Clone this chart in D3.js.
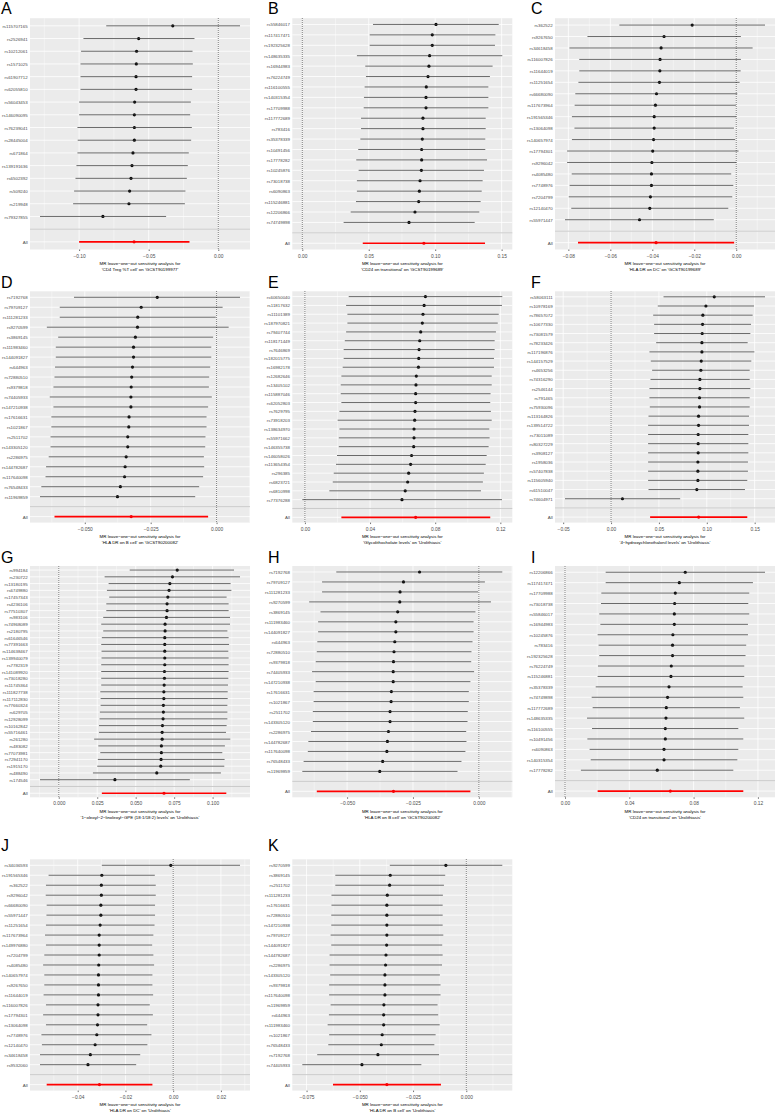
<!DOCTYPE html>
<html>
<head>
<meta charset="utf-8">
<script src="https://cdn.jsdelivr.net/npm/d3@7"></script>
<style>
  body { margin: 0; background: #fff; }
  svg { display: block; font-family: "Liberation Sans", Arial, sans-serif; }
</style>
</head>
<body>
<svg id="fig" width="776" height="1113"></svg>
<script>
// ---- data: leave-one-out estimates (lower CI, beta, upper CI) ----

const snpA = ['rs115707165','rs2526941','rs10212061','rs1571025','rs61907712','rs62055810','rs56043453','rs146090095','rs76239041','rs28445004','rs671864','rs139191636','rs6502392','rs509240','rs219948','rs79327855'];
const loA = [-0.0805,-0.0969,-0.0986,-0.0990,-0.0990,-0.0990,-0.1000,-0.1000,-0.1012,-0.1010,-0.1012,-0.1019,-0.1026,-0.1036,-0.1043,-0.1281];
const bA  = [-0.0327,-0.0572,-0.0587,-0.0589,-0.0591,-0.0591,-0.0601,-0.0603,-0.0603,-0.0603,-0.0613,-0.0620,-0.0627,-0.0637,-0.0642,-0.0829];
const hiA = [0.0156,-0.0171,-0.0185,-0.0183,-0.0188,-0.0188,-0.0197,-0.0202,-0.0190,-0.0195,-0.0212,-0.0219,-0.0226,-0.0236,-0.0240,-0.0375];
const allA = [-0.1000,-0.0605,-0.0207];
const ticksA = [-0.10,-0.05,0.00];

const snpB = ['rs55846017','rs117417471','rs192325628','rs148635335','rs16944983','rs76224749','rs116100555','rs140315354','rs17709988','rs117772689','rs783416','rs35378339','rs10491456','rs17778282','rs10245876','rs73018738','rs6090863','rs115246881','rs12206866','rs74749898'];
const loB = [0.0532,0.0507,0.0507,0.0411,0.0474,0.0479,0.0469,0.0464,0.0462,0.0442,0.0442,0.0437,0.0421,0.0406,0.0424,0.0411,0.0411,0.0404,0.0364,0.0311];
const bB  = [0.1006,0.0978,0.0978,0.0958,0.0953,0.0946,0.0933,0.0931,0.0931,0.0908,0.0908,0.0903,0.0898,0.0898,0.0896,0.0886,0.0881,0.0876,0.0848,0.0803];
const hiB = [0.1478,0.1453,0.1450,0.1505,0.1432,0.1412,0.1400,0.1400,0.1400,0.1380,0.1380,0.1377,0.1377,0.1390,0.1367,0.1357,0.1350,0.1342,0.1332,0.1297];
const allB = [0.0455,0.0915,0.1375];
const ticksB = [0.00,0.05,0.10,0.15];

const snpC = ['rs362522','rs9267650','rs34618458','rs116007826','rs11644019','rs11251654','rs66680090','rs117673964','rs191565346','rs13064098','rs140657974','rs17794301','rs9296042','rs4085480','rs7748976','rs7204799','rs12140470','rs55971447'];
const loC = [-0.0557,-0.0709,-0.0795,-0.0748,-0.0748,-0.0752,-0.0767,-0.0770,-0.0783,-0.0771,-0.0783,-0.0806,-0.0806,-0.0784,-0.0794,-0.0798,-0.0786,-0.0816];
const bC  = [-0.0210,-0.0344,-0.0358,-0.0363,-0.0364,-0.0366,-0.0380,-0.0385,-0.0391,-0.0391,-0.0394,-0.0398,-0.0402,-0.0404,-0.0404,-0.0409,-0.0412,-0.0461];
const hiC = [0.0137,0.0022,0.0078,0.0022,0.0021,0.0016,0.0005,-0.0002,0.0000,-0.0011,-0.0005,0.0011,0.0000,-0.0024,-0.0014,-0.0019,-0.0038,-0.0107];
const allC = [-0.0754,-0.0382,-0.0010];
const ticksC = [-0.08,-0.06,-0.04,-0.02,0.00];

// D and H show the same analysis
const snpD = ['rs7192768','rs79709127','rs111281233','rs9270599','rs3869145','rs111983460','rs144091827','rs644963','rs72880510','rs9379818','rs74405933','rs147210938','rs17616631','rs1021867','rs2511702','rs143305120','rs2286975','rs144782687','rs117640098','rs76548433','rs11969859'];
const loD = [-0.0541,-0.0595,-0.0595,-0.0644,-0.0601,-0.0610,-0.0610,-0.0613,-0.0615,-0.0619,-0.0633,-0.0619,-0.0627,-0.0627,-0.0630,-0.0630,-0.0637,-0.0647,-0.0649,-0.0665,-0.0670];
const bD  = [-0.0225,-0.0286,-0.0299,-0.0300,-0.0308,-0.0315,-0.0315,-0.0319,-0.0322,-0.0324,-0.0325,-0.0325,-0.0332,-0.0333,-0.0337,-0.0337,-0.0343,-0.0347,-0.0349,-0.0365,-0.0376];
const hiD = [0.0089,0.0023,-0.0003,0.0046,-0.0013,-0.0020,-0.0020,-0.0024,-0.0028,-0.0029,-0.0018,-0.0032,-0.0038,-0.0038,-0.0042,-0.0043,-0.0048,-0.0047,-0.0051,-0.0066,-0.0081];
const allD = [-0.0615,-0.0324,-0.0032];
const ticksD = [-0.050,-0.025,0.000];

const snpE = ['rs60650040','rs11817632','rs11101389','rs187970821','rs79407744','rs118171449','rs7646869','rs182015775','rs16982178','rs12682646','rs13405102','rs115887046','rs62052803','rs7629795','rs73918203','rs138634970','rs55971662','rs146355738','rs146058026','rs113654354','rs296385','rs6823721','rs6810998','rs77376288'];
const loE = [0.0269,0.0253,0.0261,0.0261,0.0253,0.0245,0.0238,0.0238,0.0232,0.0224,0.0220,0.0220,0.0224,0.0212,0.0201,0.0212,0.0208,0.0208,0.0197,0.0191,0.0177,0.0171,0.0150,-0.0016];
const bE  = [0.0740,0.0732,0.0725,0.0721,0.0711,0.0705,0.0701,0.0699,0.0697,0.0684,0.0682,0.0680,0.0680,0.0676,0.0674,0.0670,0.0670,0.0668,0.0655,0.0649,0.0637,0.0631,0.0616,0.0596];
const hiE = [0.1212,0.1210,0.1190,0.1184,0.1173,0.1165,0.1165,0.1161,0.1161,0.1147,0.1147,0.1140,0.1138,0.1142,0.1147,0.1132,0.1134,0.1128,0.1116,0.1110,0.1099,0.1093,0.1081,0.1210];
const allE = [0.0224,0.0680,0.1138];
const ticksE = [0.00,0.04,0.08,0.12];

const snpF = ['rs58063111','rs10978169','rs78657072','rs10677330','rs73081579','rs78233426','rs117196876','rs144157529','rs4653256','rs74316290','rs2546144','rs791465','rs75930096','rs113164826','rs139514722','rs73011089','rs80327229','rs3908127','rs1958036','rs57407838','rs115605940','rs61510047','rs74604971'];
const loF = [0.0548,0.0488,0.0440,0.0450,0.0450,0.0471,0.0401,0.0415,0.0429,0.0412,0.0401,0.0401,0.0405,0.0391,0.0387,0.0387,0.0387,0.0387,0.0387,0.0387,0.0387,0.0391,-0.0481];
const bF  = [0.1078,0.0991,0.0959,0.0956,0.0952,0.0949,0.0949,0.0942,0.0938,0.0928,0.0928,0.0924,0.0924,0.0914,0.0914,0.0910,0.0910,0.0910,0.0907,0.0907,0.0907,0.0896,0.0119];
const hiF = [0.1608,0.1493,0.1479,0.1462,0.1455,0.1427,0.1497,0.1465,0.1448,0.1448,0.1455,0.1448,0.1448,0.1441,0.1441,0.1434,0.1434,0.1434,0.1430,0.1430,0.1423,0.1399,0.0722];
const allF = [0.0408,0.0915,0.1423];
const ticksF = [-0.05,0.00,0.05,0.10,0.15];

const snpG = ['rs994184','rs230722','rs13180195','rs6749880','rs17457343','rs4236106','rs77510307','rs983106','rs74968089','rs2180795','rs61646546','rs77391663','rs114638467','rs139940079','rs7782319','rs141089920','rs73018280','rs11745364','rs111827738','rs117112830','rs77660324','rs629705','rs12928099','rs10162842','rs55716461','rs261280','rs483082','rs77073981','rs72941170','rs1915170','rs488490','rs174546'];
const loG = [0.0461,0.0298,0.0324,0.0313,0.0328,0.0309,0.0309,0.0289,0.0276,0.0289,0.0280,0.0276,0.0278,0.0278,0.0276,0.0276,0.0276,0.0276,0.0270,0.0272,0.0272,0.0267,0.0265,0.0261,0.0261,0.0230,0.0257,0.0270,0.0254,0.0250,0.0222,-0.0122];
const bG  = [0.0770,0.0739,0.0722,0.0717,0.0709,0.0704,0.0704,0.0700,0.0691,0.0691,0.0689,0.0689,0.0689,0.0689,0.0689,0.0687,0.0687,0.0685,0.0683,0.0683,0.0680,0.0680,0.0678,0.0674,0.0672,0.0672,0.0667,0.0667,0.0665,0.0663,0.0637,0.0365];
const hiG = [0.1139,0.1178,0.1117,0.1122,0.1091,0.1104,0.1104,0.1113,0.1113,0.1096,0.1104,0.1107,0.1102,0.1104,0.1104,0.1104,0.1102,0.1100,0.1098,0.1098,0.1096,0.1096,0.1096,0.1091,0.1087,0.1115,0.1080,0.1063,0.1078,0.1076,0.1054,0.0852];
const allG = [0.0280,0.0684,0.1089];
const ticksG = [0.000,0.025,0.050,0.075,0.100];

const snpI = ['rs12206866','rs117417471','rs17709988','rs73018738','rs55846017','rs16944983','rs10245876','rs783416','rs192325628','rs76224749','rs115246881','rs35378339','rs74749898','rs117772689','rs148635335','rs116100555','rs10491456','rs6090863','rs140315354','rs17778282'];
const loI = [0.0253,0.0253,0.0226,0.0224,0.0213,0.0220,0.0203,0.0209,0.0213,0.0205,0.0203,0.0191,0.0166,0.0172,0.0137,0.0168,0.0139,0.0153,0.0160,0.0099];
const bI  = [0.0748,0.0711,0.0686,0.0682,0.0680,0.0680,0.0671,0.0669,0.0669,0.0661,0.0659,0.0647,0.0638,0.0630,0.0628,0.0624,0.0624,0.0616,0.0616,0.0574];
const hiI = [0.1244,0.1169,0.1146,0.1140,0.1146,0.1138,0.1138,0.1127,0.1123,0.1115,0.1115,0.1105,0.1109,0.1088,0.1115,0.1078,0.1109,0.1078,0.1072,0.1047];
const allI = [0.0203,0.0655,0.1109];
const ticksI = [0.00,0.04,0.08,0.12];

const snpJ = ['rs34036593','rs191565346','rs362522','rs9296042','rs66680090','rs55971447','rs11251654','rs117673964','rs149976880','rs7204799','rs4085480','rs140657974','rs9267650','rs11644019','rs116007826','rs17794301','rs13064098','rs7748976','rs12140470','rs34618458','rs9532060'];
const loJ = [-0.0299,-0.0522,-0.0533,-0.0534,-0.0530,-0.0531,-0.0533,-0.0537,-0.0533,-0.0540,-0.0545,-0.0540,-0.0540,-0.0543,-0.0533,-0.0545,-0.0533,-0.0552,-0.0550,-0.0558,-0.0558];
const bJ  = [-0.0010,-0.0299,-0.0301,-0.0301,-0.0303,-0.0303,-0.0306,-0.0310,-0.0310,-0.0310,-0.0312,-0.0313,-0.0313,-0.0313,-0.0315,-0.0315,-0.0317,-0.0320,-0.0327,-0.0347,-0.0357];
const hiJ = [0.0280,-0.0077,-0.0073,-0.0073,-0.0076,-0.0076,-0.0078,-0.0083,-0.0088,-0.0083,-0.0080,-0.0087,-0.0087,-0.0084,-0.0098,-0.0085,-0.0109,-0.0091,-0.0108,-0.0138,-0.0155];
const allJ = [-0.0530,-0.0309,-0.0087];
const ticksJ = [-0.04,-0.02,0.00,0.02];

const snpK = ['rs9270599','rs3869145','rs2511702','rs111281233','rs17616631','rs72880510','rs147210938','rs79709127','rs144091827','rs144782687','rs2286975','rs143305120','rs9379818','rs117640098','rs11969859','rs644963','rs111983460','rs1021867','rs76548433','rs7192768','rs74405933'];
const loK = [-0.0359,-0.0615,-0.0615,-0.0633,-0.0633,-0.0634,-0.0634,-0.0637,-0.0634,-0.0642,-0.0642,-0.0639,-0.0644,-0.0644,-0.0637,-0.0645,-0.0651,-0.0644,-0.0648,-0.0700,-0.0770];
const bK  = [-0.0096,-0.0357,-0.0360,-0.0371,-0.0373,-0.0373,-0.0373,-0.0373,-0.0374,-0.0377,-0.0379,-0.0382,-0.0382,-0.0382,-0.0387,-0.0388,-0.0388,-0.0395,-0.0399,-0.0415,-0.0490];
const hiK = [0.0169,-0.0099,-0.0105,-0.0110,-0.0111,-0.0111,-0.0111,-0.0108,-0.0113,-0.0111,-0.0114,-0.0124,-0.0121,-0.0121,-0.0135,-0.0132,-0.0125,-0.0144,-0.0150,-0.0128,-0.0211];
const allK = [-0.0626,-0.0373,-0.0119];
const ticksK = [-0.075,-0.050,-0.025,0.000];

const titleLine1 = 'MR leave\u2212one\u2212out sensitivity analysis for';

// ---- layout ----
const colX = [30, 292.3, 555];
const rowY = [18.2, 291.3, 566, 859.3];
const letterX = [1, 268, 531];
const letterY = [14, 288, 563, 851];
const plotW = 220;
const plotH = 231.3;

const looPlot = (selection, props) => {
  const { letter, snps, lo, b, hi, all, ticks, digits, title, col, row } = props;
  const left = colX[col];
  const top = rowY[row];
  const bottom = top + plotH;

  const rows = snps.map((s, i) => ({ snp: s, lo: lo[i], b: b[i], hi: hi[i], tot: false }));
  rows.push({ snp: 'All', lo: all[0], b: all[1], hi: all[2], tot: true });

  const levels = [...snps, '', 'All'];
  const yScale = d3.scalePoint()
    .domain(levels)
    .range([top, bottom])
    .padding(0.6);

  // ggplot trains on the error bars and the vline at 0, then adds 5%
  const ext = d3.extent([...lo, ...hi, all[0], all[2], 0]);
  const pad = (ext[1] - ext[0]) * 0.05;
  const xScale = d3.scaleLinear()
    .domain([ext[0] - pad, ext[1] + pad])
    .range([left, left + plotW]);
  const [d0, d1] = xScale.domain();

  const g = selection.append('g').attr('class', 'panel');

  g.append('text')
    .attr('x', letterX[col])
    .attr('y', letterY[row])
    .attr('font-size', 16)
    .attr('fill', '#000')
    .text(letter);

  g.append('rect')
    .attr('x', left).attr('y', top)
    .attr('width', plotW).attr('height', plotH)
    .attr('fill', '#EBEBEB');

  const step = ticks[1] - ticks[0];
  const minor = d3.range(-1, ticks.length)
    .map(i => ticks[0] + (i + 0.5) * step)
    .filter(v => v > d0 && v < d1);

  g.selectAll('.minor').data(minor).enter().append('line')
    .attr('class', 'minor')
    .attr('x1', d => xScale(d)).attr('x2', d => xScale(d))
    .attr('y1', top).attr('y2', bottom)
    .attr('stroke', '#fff').attr('stroke-width', 0.4);

  g.selectAll('.vmajor').data(ticks).enter().append('line')
    .attr('class', 'vmajor')
    .attr('x1', d => xScale(d)).attr('x2', d => xScale(d))
    .attr('y1', top).attr('y2', bottom)
    .attr('stroke', '#fff').attr('stroke-width', 0.8);

  g.selectAll('.hmajor').data(levels).enter().append('line')
    .attr('class', 'hmajor')
    .attr('x1', left).attr('x2', left + plotW)
    .attr('y1', d => yScale(d)).attr('y2', d => yScale(d))
    .attr('stroke', '#fff').attr('stroke-width', 0.8);

  // points first, bars on top, as in mr_leaveoneout_plot
  g.selectAll('.pt').data(rows).enter().append('circle')
    .attr('class', 'pt')
    .attr('cx', d => xScale(d.b))
    .attr('cy', d => yScale(d.snp))
    .attr('r', 1.6)
    .attr('fill', d => d.tot ? '#e8000b' : '#000');

  g.selectAll('.bar').data(rows).enter().append('line')
    .attr('class', 'bar')
    .attr('x1', d => xScale(d.lo)).attr('x2', d => xScale(d.hi))
    .attr('y1', d => yScale(d.snp)).attr('y2', d => yScale(d.snp))
    .attr('stroke', d => d.tot ? '#ff0000' : '#3a3a3a')
    .attr('stroke-width', d => d.tot ? 1.7 : 0.75);

  g.append('line')
    .attr('x1', xScale(0)).attr('x2', xScale(0))
    .attr('y1', top).attr('y2', bottom)
    .attr('stroke', '#000').attr('stroke-width', 0.7)
    .attr('stroke-dasharray', '0.7 1.3');

  g.append('line')
    .attr('x1', left).attr('x2', left + plotW)
    .attr('y1', yScale('')).attr('y2', yScale(''))
    .attr('stroke', '#BEBEBE').attr('stroke-width', 0.8);

  const xAxis = d3.axisBottom(xScale)
    .tickValues(ticks)
    .tickFormat(d3.format(`.${digits}f`))
    .tickSize(1.5);

  const xAxisG = g.append('g')
    .attr('transform', `translate(0,${bottom})`)
    .call(xAxis);
  xAxisG.select('.domain').remove();
  xAxisG.selectAll('line').attr('stroke', '#333').attr('stroke-width', 0.7);
  xAxisG.selectAll('text')
    .attr('y', 6.3).attr('dy', '0.36em')
    .attr('font-size', 4.85)
    .attr('fill', '#4D4D4D');
  xAxisG.attr('font-family', null);

  const yAxis = d3.axisLeft(yScale).tickSize(0).tickPadding(2.3);
  const yAxisG = g.append('g').attr('transform', `translate(${left},0)`).call(yAxis);
  yAxisG.select('.domain').remove();
  yAxisG.selectAll('text')
    .attr('font-size', 4.4)
    .attr('dy', '0.35em')
    .attr('fill', '#4D4D4D');
  yAxisG.attr('font-family', null);

  g.selectAll('.xtitle').data([titleLine1, title]).enter().append('text')
    .attr('class', 'xtitle')
    .attr('x', left + plotW / 2)
    .attr('y', (d, i) => bottom + 13.8 + i * 6)
    .attr('dy', '0.35em')
    .attr('text-anchor', 'middle')
    .attr('font-size', 4.4)
    .attr('fill', '#000')
    .text(d => d);
};

const svg = d3.select('#fig');
svg.append('rect').attr('width', 776).attr('height', 1113).attr('fill', '#fff');

const panels = [
  { letter: 'A', snps: snpA, lo: loA, b: bA, hi: hiA, all: allA, ticks: ticksA, digits: 2, col: 0, row: 0,
    title: "'CD4 Treg %T cell' on 'GCST90199977'" },
  { letter: 'B', snps: snpB, lo: loB, b: bB, hi: hiB, all: allB, ticks: ticksB, digits: 2, col: 1, row: 0,
    title: "'CD24 on transitional' on 'GCST90199689'" },
  { letter: 'C', snps: snpC, lo: loC, b: bC, hi: hiC, all: allC, ticks: ticksC, digits: 2, col: 2, row: 0,
    title: "'HLA DR on DC' on 'GCST90199689'" },
  { letter: 'D', snps: snpD, lo: loD, b: bD, hi: hiD, all: allD, ticks: ticksD, digits: 3, col: 0, row: 1,
    title: "'HLA DR on B cell' on 'GCST90200082'" },
  { letter: 'E', snps: snpE, lo: loE, b: bE, hi: hiE, all: allE, ticks: ticksE, digits: 2, col: 1, row: 1,
    title: "'Glycolithocholate levels' on 'Urolithiasis'" },
  { letter: 'F', snps: snpF, lo: loF, b: bF, hi: hiF, all: allF, ticks: ticksF, digits: 2, col: 2, row: 1,
    title: "'4\u2212hydroxychlorothalonil levels' on 'Urolithiasis'" },
  { letter: 'G', snps: snpG, lo: loG, b: bG, hi: hiG, all: allG, ticks: ticksG, digits: 3, col: 0, row: 2,
    title: "'1\u2212oleoyl\u22122\u2212linoleoyl\u2212GPE (18:1/18:2) levels' on 'Urolithiasis'" },
  { letter: 'H', snps: snpD, lo: loD, b: bD, hi: hiD, all: allD, ticks: ticksD, digits: 3, col: 1, row: 2,
    title: "'HLA DR on B cell' on 'GCST90200082'" },
  { letter: 'I', snps: snpI, lo: loI, b: bI, hi: hiI, all: allI, ticks: ticksI, digits: 2, col: 2, row: 2,
    title: "'CD24 on transitional' on 'Urolithiasis'" },
  { letter: 'J', snps: snpJ, lo: loJ, b: bJ, hi: hiJ, all: allJ, ticks: ticksJ, digits: 2, col: 0, row: 3,
    title: "'HLA DR on DC' on 'Urolithiasis'" },
  { letter: 'K', snps: snpK, lo: loK, b: bK, hi: hiK, all: allK, ticks: ticksK, digits: 3, col: 1, row: 3,
    title: "'HLA DR on B cell' on 'Urolithiasis'" }
];

panels.forEach(p => svg.call(looPlot, p));
</script>
</body>
</html>
